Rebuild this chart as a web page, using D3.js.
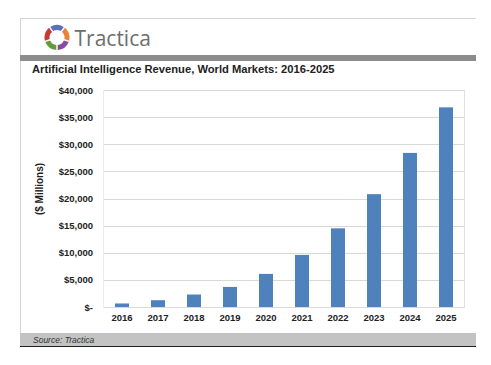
<!DOCTYPE html>
<html>
<head>
<meta charset="utf-8">
<script src="https://cdn.jsdelivr.net/npm/d3@7"></script>
<style>
  html, body { margin: 0; padding: 0; background: #ffffff; }
  svg { display: block; font-family: Arial, "Liberation Sans", sans-serif; }
</style>
</head>
<body>
<svg id="chart" width="491" height="365"></svg>
<script>
const years = ["2016","2017","2018","2019","2020","2021","2022","2023","2024","2025"];
const revenue = [650, 1250, 2300, 3700, 6100, 9600, 14500, 20800, 28400, 36800];
const yTicks = [0, 5000, 10000, 15000, 20000, 25000, 30000, 35000, 40000];
const titleText = "Artificial Intelligence Revenue, World Markets: 2016-2025";
const yAxisTitle = "($ Millions)";
const sourceText = "Source: Tractica";
const brandName = "Tractica";
const logoColors = ["#5a6fb8", "#e8843a", "#8a4a9e", "#5e9c3e", "#c83a35"];

const svg = d3.select("#chart");

// Card frame
svg.append("line").attr("x1", 20).attr("x2", 476).attr("y1", 18.5).attr("y2", 18.5)
  .attr("stroke", "#d4d4d4").attr("stroke-width", 1);
svg.append("line").attr("x1", 20.5).attr("x2", 20.5).attr("y1", 18).attr("y2", 333)
  .attr("stroke", "#d4d4d4").attr("stroke-width", 1);

// Logo ring
const logo = svg.append("g").attr("transform", "translate(57,37.5)");
const pie = d3.pie().sort(null).value(1).padAngle(0.1).startAngle(-Math.PI / 5).endAngle(2 * Math.PI - Math.PI / 5);
const arc = d3.arc().innerRadius(7.5).outerRadius(12.5);
logo.selectAll("path").data(pie(logoColors)).join("path")
  .attr("d", arc).attr("fill", d => d.data);

svg.append("text").attr("x", 74.5).attr("y", 46)
  .attr("font-size", 21).attr("fill", "#6e6e6e")
  .attr("font-family", "'Open Sans', Arial, sans-serif")
  .text(brandName);

// Dark header bar
svg.append("rect").attr("x", 20).attr("y", 55).attr("width", 456).attr("height", 6)
  .attr("fill", "#8c8c8c");

// Title
svg.append("text").attr("x", 32).attr("y", 73)
  .attr("font-size", 11.2).attr("font-weight", "bold").attr("fill", "#222")
  .text(titleText);

// Plot
const plot = { left: 104, right: 464, top: 90, bottom: 307 };
const x = d3.scaleBand().domain(years).range([plot.left, plot.right]).paddingInner(0.61).paddingOuter(0.305);
const y = d3.scaleLinear().domain([0, 40000]).range([plot.bottom, plot.top]);

// Gridlines
svg.append("g").selectAll("line").data(yTicks).join("line")
  .attr("x1", plot.left).attr("x2", plot.right)
  .attr("y1", d => Math.round(y(d)) + 0.5).attr("y2", d => Math.round(y(d)) + 0.5)
  .attr("stroke", "#d9d9d9").attr("stroke-width", 1);
svg.append("line").attr("x1", plot.right + 0.5).attr("x2", plot.right + 0.5)
  .attr("y1", plot.top).attr("y2", plot.bottom + 1)
  .attr("stroke", "#e0e0e0");
svg.append("line").attr("x1", plot.left - 0.5).attr("x2", plot.left - 0.5)
  .attr("y1", plot.top).attr("y2", plot.bottom + 1)
  .attr("stroke", "#ececec");

// Bars
svg.append("g").selectAll("rect").data(revenue).join("rect")
  .attr("x", (d, i) => x(years[i]))
  .attr("width", x.bandwidth())
  .attr("y", d => y(d))
  .attr("height", d => y(0) - y(d))
  .attr("fill", "#4f81bd");

// Y axis
const yAxis = d3.axisLeft(y).tickValues(yTicks).tickSize(0).tickPadding(0)
  .tickFormat(d => d === 0 ? "$-" : "$" + d3.format(",")(d));
const yg = svg.append("g").attr("transform", `translate(93,0)`).call(yAxis);
yg.select(".domain").remove();
yg.selectAll("text").attr("font-size", 9.5).attr("font-weight", "bold")
  .attr("fill", "#222").attr("font-family", "Arial, 'Liberation Sans', sans-serif");

// X axis
const xAxis = d3.axisBottom(x).tickSize(0).tickPadding(0);
const xg = svg.append("g").attr("transform", `translate(0,${plot.bottom + 7})`).call(xAxis);
xg.select(".domain").remove();
xg.selectAll("text").attr("font-size", 9.5).attr("font-weight", "bold")
  .attr("fill", "#222").attr("font-family", "Arial, 'Liberation Sans', sans-serif");

// Y axis title
svg.append("text").attr("transform", "translate(43,189) rotate(-90)")
  .attr("text-anchor", "middle").attr("font-size", 10).attr("font-weight", "bold")
  .attr("fill", "#222").text(yAxisTitle);

// Footer
svg.append("rect").attr("x", 20).attr("y", 333).attr("width", 456).attr("height", 13)
  .attr("fill", "#c3c3c3");
svg.append("line").attr("x1", 20).attr("x2", 476).attr("y1", 346.5).attr("y2", 346.5)
  .attr("stroke", "#222").attr("stroke-width", 1.2);
svg.append("text").attr("x", 33).attr("y", 343)
  .attr("font-size", 8.5).attr("font-style", "italic").attr("fill", "#333")
  .text(sourceText);
</script>
</body>
</html>
